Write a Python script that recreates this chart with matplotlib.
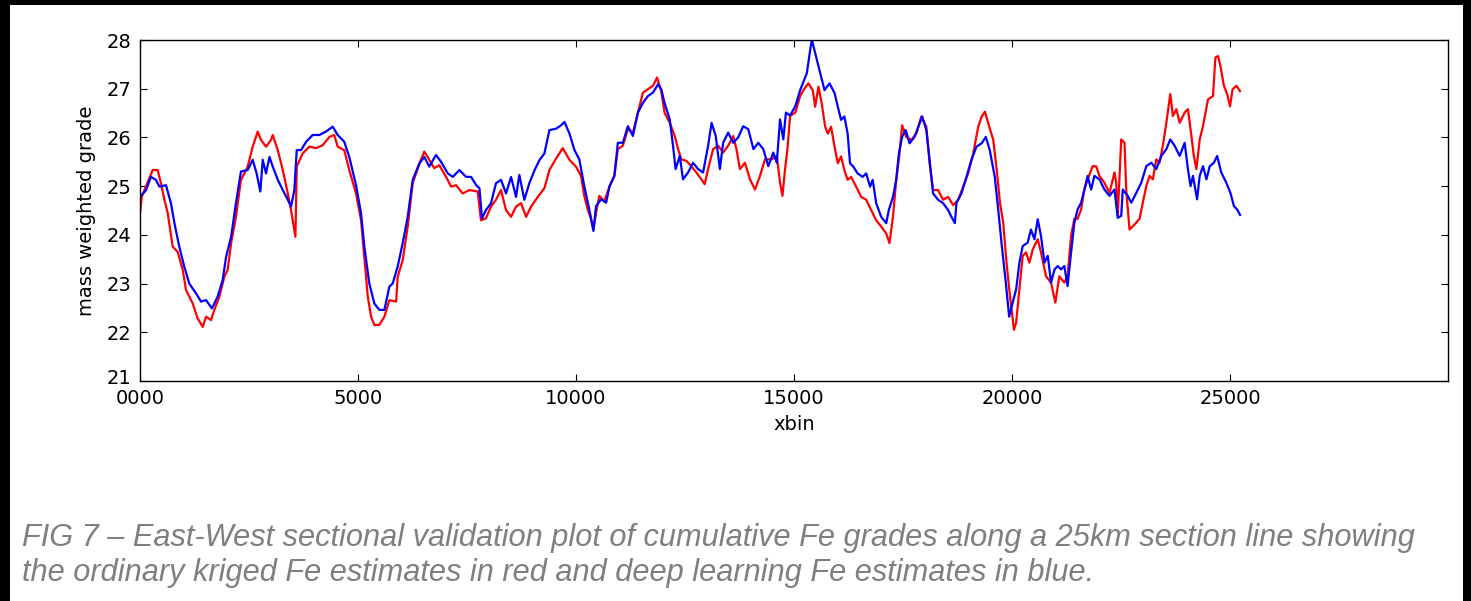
"""Sectional validation plot: kriged vs deep learning Fe grades along an E-W section."""

import matplotlib
matplotlib.use("Agg")
import matplotlib.pyplot as plt
from matplotlib.patches import Rectangle
from matplotlib.transforms import ScaledTranslation

# Ordinary kriged Fe estimates (red)
kriged_xbin = [0, 40, 290, 405, 480, 560, 635, 750, 865, 980, 1055, 1210, 1320, 1440, 1515, 1630,
               1705, 1820, 1935, 2010, 2090, 2200, 2315, 2470, 2585, 2700, 2775, 2890, 3005, 3045,
               3160, 3275, 3390, 3465, 3565, 3595, 3730, 3885, 4040, 4190, 4345, 4455, 4535, 4685,
               4800, 4955, 5070, 5145, 5225, 5300, 5375, 5490, 5605, 5720, 5875, 5910, 6025, 6140,
               6255, 6410, 6520, 6635, 6750, 6865, 7020, 7135, 7250, 7400, 7555, 7745, 7820, 7935,
               8050, 8165, 8280, 8395, 8510, 8625, 8740, 8855, 8970, 9125, 9275, 9390, 9545, 9695,
               9850, 10000, 10115, 10190, 10270, 10345, 10400, 10460, 10535, 10650, 10770, 10880,
               10960, 11075, 11190, 11305, 11420, 11535, 11650, 11765, 11860, 11955, 12030, 12150,
               12265, 12340, 12415, 12530, 12645, 12760, 12875, 12950, 13030, 13145, 13260, 13375,
               13490, 13605, 13680, 13760, 13875, 13990, 14105, 14220, 14335, 14490, 14605, 14680,
               14735, 14795, 14850, 14910, 15030, 15140, 15215, 15330, 15430, 15485, 15560, 15635,
               15715, 15775, 15850, 15930, 16005, 16080, 16155, 16230, 16310, 16425, 16540, 16655,
               16770, 16885, 17000, 17115, 17190, 17270, 17345, 17420, 17480, 17575, 17690, 17805,
               17920, 18035, 18110, 18190, 18305, 18420, 18535, 18650, 18765, 18880, 18995, 19110,
               19225, 19305, 19380, 19455, 19570, 19650, 19725, 19800, 19875, 19955, 20045, 20095,
               20170, 20245, 20320, 20400, 20475, 20590, 20665, 20780, 20895, 20995, 21085, 21200,
               21275, 21355, 21430, 21505, 21585, 21660, 21735, 21850, 21930, 22005, 22120, 22235,
               22350, 22390, 22425, 22505, 22580, 22620, 22695, 22810, 22925, 23000, 23080, 23155,
               23230, 23310, 23385, 23460, 23540, 23630, 23690, 23770, 23845, 23960, 24035, 24115,
               24170, 24230, 24305, 24380, 24495, 24610, 24665, 24725, 24780, 24860, 24935, 25000,
               25060, 25150, 25230]
kriged_grade = [24.45, 24.78, 25.33, 25.33, 25.06, 24.72, 24.45, 23.76, 23.65, 23.28, 22.87, 22.59,
                22.29, 22.11, 22.32, 22.25, 22.46, 22.73, 23.14, 23.28, 23.83, 24.37, 25.13, 25.40,
                25.81, 26.12, 25.95, 25.81, 25.95, 26.05, 25.74, 25.33, 24.85, 24.51, 23.96, 25.40,
                25.67, 25.81, 25.78, 25.84, 26.01, 26.05, 25.81, 25.74, 25.33, 24.85, 24.30, 23.55,
                22.73, 22.32, 22.15, 22.15, 22.32, 22.66, 22.63, 23.14, 23.48, 24.17, 25.06, 25.47,
                25.71, 25.54, 25.37, 25.43, 25.19, 24.99, 25.02, 24.85, 24.92, 24.89, 24.30, 24.34,
                24.58, 24.72, 24.92, 24.51, 24.37, 24.58, 24.65, 24.37, 24.58, 24.78, 24.96, 25.33,
                25.57, 25.78, 25.54, 25.40, 25.21, 24.80, 24.52, 24.32, 24.11, 24.46, 24.80, 24.69,
                25.00, 25.21, 25.76, 25.83, 26.17, 26.10, 26.51, 26.92, 26.99, 27.06, 27.23, 26.95,
                26.51, 26.30, 26.03, 25.76, 25.55, 25.52, 25.41, 25.28, 25.14, 25.04, 25.35, 25.76,
                25.83, 25.69, 25.83, 26.03, 25.76, 25.35, 25.48, 25.14, 24.93, 25.21, 25.55, 25.55,
                25.62, 25.07, 24.80, 25.35, 25.76, 26.44, 26.51, 26.85, 26.97, 27.11, 26.97, 26.63,
                27.04, 26.70, 26.22, 26.08, 26.22, 25.81, 25.47, 25.61, 25.33, 25.13, 25.19, 24.99,
                24.78, 24.72, 24.51, 24.30, 24.17, 24.03, 23.83, 24.37, 25.13, 25.67, 26.25, 26.01,
                25.95, 26.08, 26.43, 26.22, 25.47, 24.92, 24.92, 24.72, 24.78, 24.61, 24.72, 24.99,
                25.26, 25.67, 26.22, 26.43, 26.53, 26.29, 25.95, 25.33, 24.65, 24.24, 23.42, 22.73,
                22.05, 22.20, 22.88, 23.57, 23.64, 23.43, 23.70, 23.91, 23.64, 23.15, 23.02, 22.61,
                23.15, 23.02, 23.15, 23.98, 24.33, 24.33, 24.52, 24.93, 25.14, 25.41, 25.41, 25.21,
                25.07, 24.86, 25.28, 25.07, 24.39, 25.96, 25.89, 24.93, 24.11, 24.21, 24.33, 24.66,
                25.00, 25.21, 25.14, 25.55, 25.48, 25.83, 26.30, 26.89, 26.44, 26.58, 26.30, 26.51,
                26.58, 26.03, 25.62, 25.35, 25.96, 26.23, 26.78, 26.85, 27.64, 27.67, 27.47, 27.06,
                26.89, 26.64, 26.99, 27.06, 26.95]

# Deep learning Fe estimates (blue)
dl_xbin = [0, 140, 250, 365, 445, 595, 710, 790, 900, 1015, 1130, 1285, 1400, 1515, 1650, 1780,
           1895, 1975, 2090, 2200, 2315, 2470, 2585, 2675, 2760, 2815, 2890, 2970, 3045, 3160, 3275,
           3390, 3465, 3540, 3595, 3695, 3810, 3960, 4115, 4265, 4420, 4535, 4685, 4800, 4955, 5070,
           5145, 5260, 5375, 5490, 5605, 5720, 5795, 5910, 6025, 6140, 6255, 6410, 6520, 6635, 6790,
           6905, 7060, 7175, 7325, 7480, 7595, 7710, 7785, 7845, 7935, 8050, 8165, 8280, 8395, 8510,
           8625, 8700, 8815, 8930, 9050, 9165, 9275, 9390, 9545, 9660, 9735, 9850, 9965, 10075,
           10190, 10305, 10400, 10460, 10575, 10690, 10770, 10880, 10960, 11075, 11190, 11305,
           11420, 11535, 11650, 11765, 11880, 11955, 12030, 12150, 12225, 12285, 12380, 12455,
           12570, 12685, 12800, 12915, 13030, 13110, 13205, 13300, 13375, 13490, 13605, 13720,
           13835, 13950, 14070, 14180, 14295, 14410, 14525, 14605, 14680, 14755, 14815, 14910,
           15030, 15140, 15295, 15370, 15410, 15525, 15600, 15700, 15815, 15930, 16005, 16080,
           16155, 16230, 16285, 16360, 16460, 16575, 16655, 16745, 16805, 16885, 17000, 17115,
           17175, 17270, 17345, 17405, 17480, 17560, 17650, 17765, 17880, 17940, 18035, 18110,
           18190, 18305, 18420, 18535, 18610, 18690, 18725, 18840, 18955, 19070, 19185, 19305,
           19400, 19490, 19605, 19685, 19760, 19860, 19935, 20030, 20095, 20170, 20245, 20360,
           20435, 20515, 20590, 20665, 20745, 20820, 20895, 20975, 21050, 21125, 21200, 21275,
           21355, 21430, 21505, 21585, 21660, 21735, 21815, 21890, 22005, 22120, 22235, 22350,
           22425, 22505, 22540, 22655, 22735, 22850, 22965, 23080, 23195, 23310, 23425, 23540,
           23630, 23730, 23845, 23960, 24035, 24095, 24150, 24245, 24305, 24380, 24460, 24535,
           24630, 24705, 24800, 24915, 25010, 25090, 25165, 25230]
dl_grade = [24.78, 24.92, 25.19, 25.13, 24.99, 25.02, 24.65, 24.24, 23.76, 23.35, 23.00, 22.80,
            22.63, 22.66, 22.49, 22.73, 23.07, 23.55, 23.96, 24.65, 25.30, 25.33, 25.54, 25.26,
            24.89, 25.54, 25.26, 25.60, 25.40, 25.13, 24.92, 24.72, 24.58, 24.92, 25.74, 25.74,
            25.91, 26.05, 26.05, 26.12, 26.22, 26.05, 25.91, 25.60, 25.02, 24.44, 23.76, 23.00,
            22.59, 22.46, 22.46, 22.94, 23.00, 23.35, 23.83, 24.37, 25.13, 25.47, 25.60, 25.40,
            25.64, 25.50, 25.26, 25.19, 25.33, 25.19, 25.19, 25.02, 24.96, 24.34, 24.51, 24.65,
            25.06, 25.13, 24.85, 25.19, 24.78, 25.23, 24.72, 25.06, 25.33, 25.54, 25.67, 26.15,
            26.18, 26.25, 26.32, 26.08, 25.74, 25.55, 25.00, 24.52, 24.08, 24.59, 24.73, 24.66,
            25.00, 25.21, 25.89, 25.89, 26.23, 26.03, 26.51, 26.71, 26.85, 26.92, 27.09, 26.99,
            26.71, 26.37, 25.83, 25.35, 25.62, 25.14, 25.28, 25.48, 25.35, 25.28, 25.83, 26.30,
            26.03, 25.35, 25.89, 26.10, 25.89, 26.00, 26.23, 26.17, 25.76, 25.89, 25.76, 25.41,
            25.69, 25.48, 26.37, 25.96, 26.51, 26.45, 26.64, 26.97, 27.32, 27.79, 28.00, 27.59,
            27.32, 26.97, 27.11, 26.91, 26.63, 26.36, 26.43, 26.08, 25.47, 25.40, 25.26, 25.19,
            25.26, 24.99, 25.13, 24.65, 24.37, 24.24, 24.51, 24.78, 25.13, 25.67, 26.01, 26.15,
            25.88, 26.01, 26.29, 26.43, 26.15, 25.54, 24.85, 24.72, 24.65, 24.51, 24.37, 24.24,
            24.65, 24.85, 25.19, 25.54, 25.81, 25.88, 26.01, 25.74, 25.19, 24.51, 23.83, 23.00,
            22.32, 22.66, 22.88, 23.43, 23.77, 23.84, 24.11, 23.91, 24.32, 23.98, 23.43, 23.57,
            23.02, 23.29, 23.36, 23.29, 23.36, 22.95, 23.64, 24.25, 24.52, 24.66, 24.93, 25.21,
            24.93, 25.21, 25.14, 24.93, 24.80, 24.93, 24.35, 24.39, 24.93, 24.80, 24.66, 24.86,
            25.07, 25.41, 25.48, 25.35, 25.62, 25.76, 25.96, 25.83, 25.62, 25.89, 25.35, 25.00,
            25.21, 24.73, 25.21, 25.41, 25.14, 25.41, 25.48, 25.62, 25.28, 25.07, 24.86, 24.59,
            24.52, 24.41]

xtick_values = [0, 5000, 10000, 15000, 20000, 25000]
xtick_labels = ["0000", "5000", "10000", "15000", "20000", "25000"]
ytick_values = [21, 22, 23, 24, 25, 26, 27, 28]

caption_lines = ["FIG 7 \u2013 East-West sectional validation plot of cumulative Fe grades along a 25km section line showing",
                 "the ordinary kriged Fe estimates in red and deep learning Fe estimates in blue."]

LABEL_FONTSIZE = 14
TICK_FONTSIZE = 14
CAPTION_FONTSIZE = 22.15

plt.rcParams["font.family"] = "DejaVu Sans"
plt.rcParams["xtick.direction"] = "in"
plt.rcParams["ytick.direction"] = "in"
plt.rcParams["xtick.top"] = True
plt.rcParams["ytick.right"] = True

fig = plt.figure(figsize=(14.71, 6.01), dpi=100)
fig.patch.set_facecolor("white")

ax = fig.add_axes([140 / 1471, 1 - 381 / 601, (1448 - 140) / 1471, (381 - 40) / 601])

ax.plot(kriged_xbin, kriged_grade, color="#ff0000", lw=1.6)
ax.plot(dl_xbin, dl_grade, color="#0000ff", lw=1.6)

ax.set_xlim(0, 30000)
ax.set_ylim(21, 28)
ax.set_xticks(xtick_values)
ax.set_xticklabels(xtick_labels)
ax.set_yticks(ytick_values)
ax.tick_params(labelsize=TICK_FONTSIZE, length=5, width=0.8)
ax.tick_params(axis="y", pad=6)
ax.tick_params(axis="x", pad=6)

# nudge the bottom y label up a touch so it clears the first x label
bottom_label = ax.get_yticklabels()[0]
bottom_label.set_transform(bottom_label.get_transform() + ScaledTranslation(0, 0.05, fig.dpi_scale_trans))

for spine in ax.spines.values():
    spine.set_linewidth(1.0)

ax.set_xlabel("xbin", fontsize=LABEL_FONTSIZE, labelpad=5)
ax.set_ylabel("mass weighted grade", fontsize=LABEL_FONTSIZE, labelpad=8)

# Caption below the chart
fig.text(22 / 1471, 1 - 546 / 601, caption_lines[0], fontsize=CAPTION_FONTSIZE, style="italic",
         family="Liberation Sans", color="#7f7f7f", va="baseline")
fig.text(22 / 1471, 1 - 581 / 601, caption_lines[1], fontsize=CAPTION_FONTSIZE, style="italic",
         family="Liberation Sans", color="#7f7f7f", va="baseline")

# Black frame round the scanned figure
for x0, y0, w, h in ((0, 0, 10, 601), (1463, 0, 8, 601), (0, 0, 1471, 5)):
    fig.add_artist(Rectangle((x0 / 1471, 1 - (y0 + h) / 601), w / 1471, h / 601,
                             transform=fig.transFigure, color="black", lw=0))

fig.savefig("out.png", dpi=100)
